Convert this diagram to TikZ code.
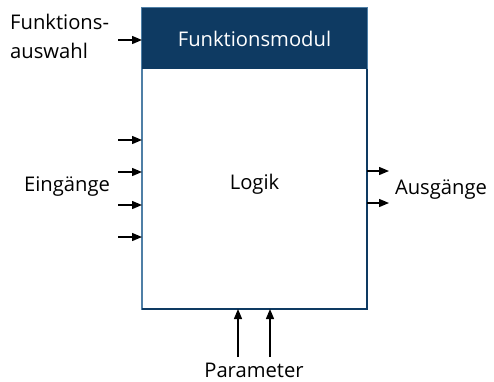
\documentclass[tikz,border=0pt]{standalone}
\usepackage{fontspec}
\setmainfont{Open Sans}
\usetikzlibrary{arrows.meta}
\definecolor{headblue}{HTML}{0E3A62}
\definecolor{frameblue}{HTML}{4F7FA6}
\tikzset{
  x=1pt, y=-1pt,
  lbl/.style={font=\fontsize{20.2}{29}\selectfont, inner sep=0pt},
  sig/.style={-{Triangle[length=10pt,width=8pt]}, line width=1.4pt, black},
}
\begin{document}
\begin{tikzpicture}
\useasboundingbox (0,0) rectangle (494,381);
% module body and header
\path[draw=frameblue, line width=2pt] (142,8) rectangle (367,309);
\draw[headblue, line width=2pt] (142,309) -- (367,309) -- (367,69);
\fill[headblue] (142,8) rectangle (367,69);
\node[lbl, text=white] (head) at (254.5,39) {Funktionsmodul};
\node[lbl] (logik) at (254.5,184) {Logik};
% side labels
\node[lbl, align=left, anchor=west] (fsel) at (10,36) {Funktions-\\auswahl};
\node[lbl] (ein) at (67,187) {Eingänge};
\node[lbl] (aus) at (441,190) {Ausgänge};
\node[lbl] (par) at (254,370) {Parameter};
% connector end points
\coordinate (f0) at (118,40);  \coordinate (f1) at (142,40);
\foreach \i/\y in {1/140,2/172,3/205,4/237}{
  \coordinate (i\i a) at (118,\y); \coordinate (i\i b) at (142,\y);
  \draw[sig] (i\i a) -- (i\i b);
}
\foreach \i/\y in {1/171,2/203}{
  \coordinate (o\i a) at (367,\y); \coordinate (o\i b) at (389,\y);
  \draw[sig] (o\i a) -- (o\i b);
}
\foreach \i/\x in {1/238,2/270}{
  \coordinate (p\i a) at (\x,357); \coordinate (p\i b) at (\x,309);
  \draw[sig] (p\i a) -- (p\i b);
}
\draw[sig] (f0) -- (f1);
\end{tikzpicture}
\end{document}
